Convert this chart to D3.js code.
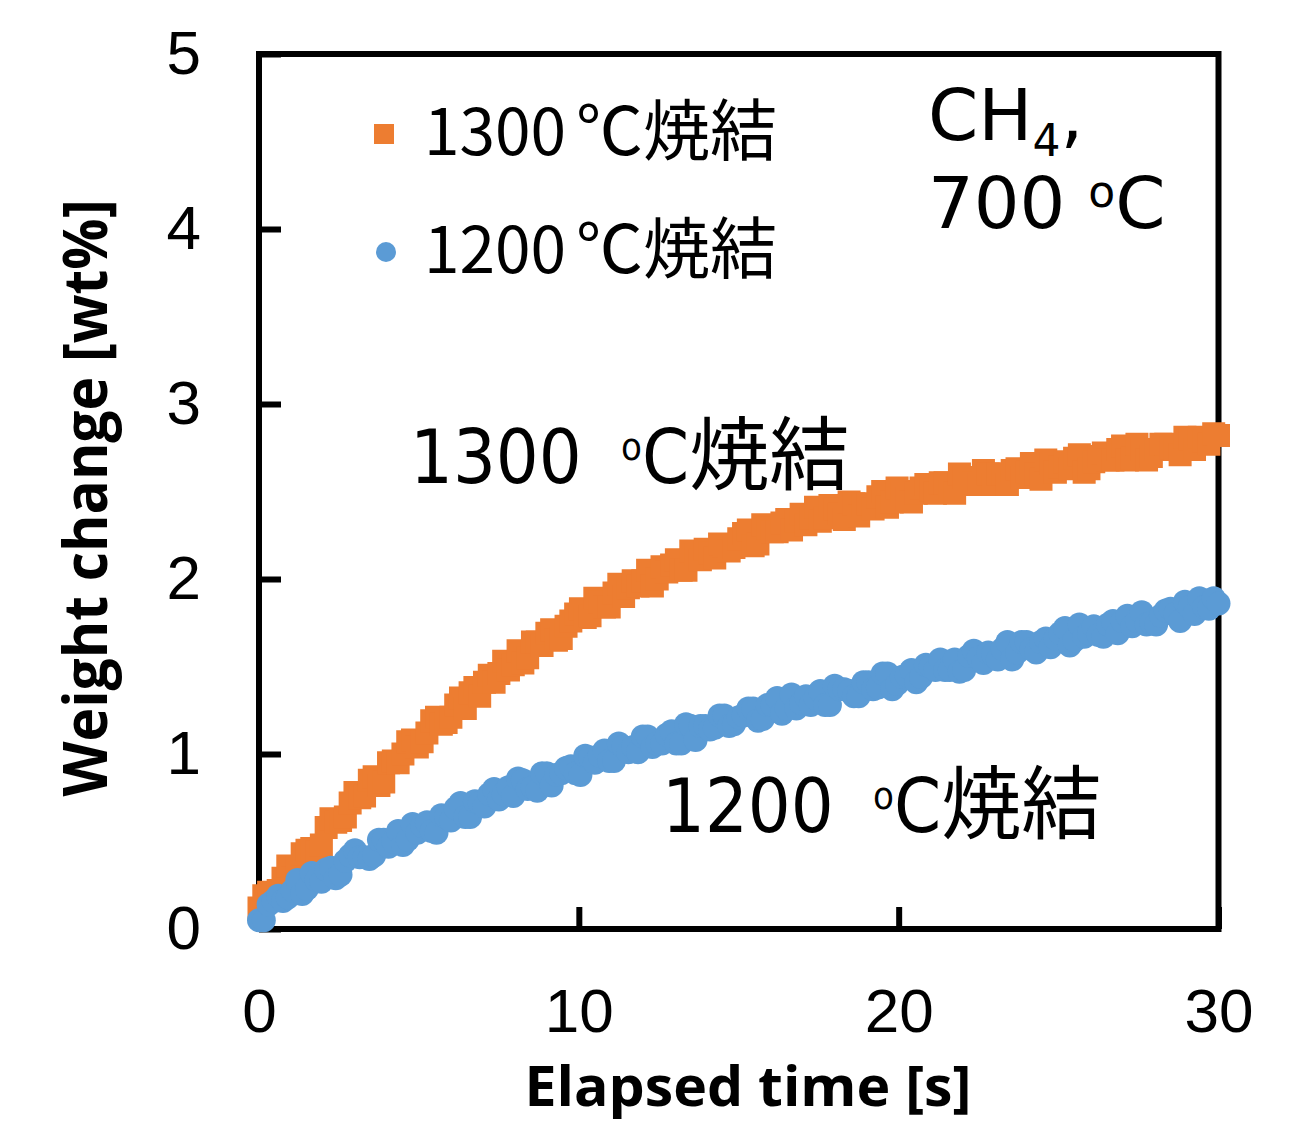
<!DOCTYPE html>
<html>
<head>
<meta charset="utf-8">
<script src="https://cdn.jsdelivr.net/npm/d3@7"></script>
<style>
	body { margin: 0; background: #fff; }
	svg { display: block; }
</style>
</head>
<body>
<div id="chart"></div>
<script>
// elapsed time [s], readings on the 0.3 s grid
const times = [
	0, 0.3, 0.6, 0.9, 1.2, 1.5, 1.8, 2.1, 2.4, 2.7,
	3.0, 3.3, 3.6, 3.9, 4.2, 4.5, 4.8, 5.1, 5.4, 5.7,
	6.0, 6.3, 6.6, 6.9, 7.2, 7.5, 7.8, 8.1, 8.4, 8.7,
	9.0, 9.3, 9.6, 9.9, 10.2, 10.5, 10.8, 11.1, 11.4, 11.7,
	12.0, 12.3, 12.6, 12.9, 13.2, 13.5, 13.8, 14.1, 14.4, 14.7,
	15.0, 15.3, 15.6, 15.9, 16.2, 16.5, 16.8, 17.1, 17.4, 17.7,
	18.0, 18.3, 18.6, 18.9, 19.2, 19.5, 19.8, 20.1, 20.4, 20.7,
	21.0, 21.3, 21.6, 21.9, 22.2, 22.5, 22.8, 23.1, 23.4, 23.7,
	24.0, 24.3, 24.6, 24.9, 25.2, 25.5, 25.8, 26.1, 26.4, 26.7,
	27.0, 27.3, 27.6, 27.9, 28.2, 28.5, 28.8, 29.1, 29.4, 29.7,
	30.0
];

// elapsed time [s], readings in between
const timesMid = [
	0.15, 0.45, 0.75, 1.05, 1.35, 1.65, 1.95, 2.25, 2.55, 2.85,
	3.15, 3.45, 3.75, 4.05, 4.35, 4.65, 4.95, 5.25, 5.55, 5.85,
	6.15, 6.45, 6.75, 7.05, 7.35, 7.65, 7.95, 8.25, 8.55, 8.85,
	9.15, 9.45, 9.75, 10.05, 10.35, 10.65, 10.95, 11.25, 11.55, 11.85,
	12.15, 12.45, 12.75, 13.05, 13.35, 13.65, 13.95, 14.25, 14.55, 14.85,
	15.15, 15.45, 15.75, 16.05, 16.35, 16.65, 16.95, 17.25, 17.55, 17.85,
	18.15, 18.45, 18.75, 19.05, 19.35, 19.65, 19.95, 20.25, 20.55, 20.85,
	21.15, 21.45, 21.75, 22.05, 22.35, 22.65, 22.95, 23.25, 23.55, 23.85,
	24.15, 24.45, 24.75, 25.05, 25.35, 25.65, 25.95, 26.25, 26.55, 26.85,
	27.15, 27.45, 27.75, 28.05, 28.35, 28.65, 28.95, 29.25, 29.55, 29.85
];

// weight change [wt%], sample sintered at 1300 C
const weight1300 = [
	0.12, 0.21, 0.22, 0.36, 0.35, 0.45, 0.44, 0.58, 0.61, 0.64,
	0.78, 0.76, 0.87, 0.84, 0.96, 1.00, 1.08, 1.07, 1.19, 1.17,
	1.21, 1.32, 1.35, 1.33, 1.45, 1.46, 1.48, 1.59, 1.55, 1.64,
	1.69, 1.65, 1.73, 1.80, 1.78, 1.89, 1.84, 1.92, 1.90, 1.99,
	1.99, 1.96, 2.07, 2.08, 2.05, 2.16, 2.11, 2.15, 2.20, 2.16,
	2.23, 2.28, 2.20, 2.29, 2.27, 2.34, 2.33, 2.31, 2.41, 2.35,
	2.40, 2.34, 2.43, 2.42, 2.40, 2.50, 2.44, 2.50, 2.44, 2.52,
	2.51, 2.55, 2.50, 2.60, 2.54, 2.54, 2.60, 2.60, 2.54, 2.63,
	2.61, 2.60, 2.68, 2.61, 2.67, 2.69, 2.61, 2.67, 2.72, 2.68,
	2.76, 2.69, 2.74, 2.70, 2.77, 2.75, 2.71, 2.80, 2.81, 2.77,
	2.82
];

const weight1300Mid = [
	0.19, 0.19, 0.29, 0.29, 0.43, 0.46, 0.48, 0.63, 0.62, 0.72,
	0.75, 0.85, 0.82, 0.95, 0.95, 1.07, 1.04, 1.12, 1.21, 1.18,
	1.28, 1.26, 1.38, 1.41, 1.41, 1.53, 1.51, 1.52, 1.64, 1.62,
	1.71, 1.66, 1.76, 1.83, 1.79, 1.87, 1.84, 1.97, 1.95, 1.96,
	2.05, 2.00, 2.04, 2.11, 2.05, 2.14, 2.17, 2.12, 2.19, 2.18,
	2.26, 2.19, 2.31, 2.27, 2.32, 2.28, 2.37, 2.35, 2.33, 2.42,
	2.37, 2.44, 2.36, 2.43, 2.47, 2.41, 2.52, 2.46, 2.49, 2.54,
	2.49, 2.55, 2.49, 2.58, 2.55, 2.62, 2.54, 2.60, 2.62, 2.58,
	2.66, 2.57, 2.66, 2.64, 2.63, 2.71, 2.63, 2.70, 2.68, 2.74,
	2.68, 2.77, 2.68, 2.74, 2.77, 2.74, 2.81, 2.74, 2.79, 2.83
];

// weight change [wt%], sample sintered at 1200 C
const weight1200 = [
	0.05, 0.14, 0.19, 0.18, 0.28, 0.23, 0.28, 0.34, 0.29, 0.39,
	0.45, 0.41, 0.42, 0.51, 0.50, 0.48, 0.60, 0.59, 0.56, 0.65,
	0.62, 0.72, 0.64, 0.72, 0.77, 0.74, 0.81, 0.86, 0.80, 0.79,
	0.89, 0.88, 0.92, 0.89, 0.99, 0.95, 1.02, 0.96, 1.04, 1.04,
	1.10, 1.04, 1.06, 1.13, 1.06, 1.16, 1.16, 1.14, 1.22, 1.16,
	1.21, 1.26, 1.19, 1.28, 1.32, 1.26, 1.26, 1.33, 1.32, 1.28,
	1.39, 1.37, 1.33, 1.41, 1.37, 1.46, 1.37, 1.44, 1.48, 1.44,
	1.50, 1.54, 1.48, 1.47, 1.56, 1.55, 1.58, 1.54, 1.64, 1.58,
	1.64, 1.58, 1.66, 1.66, 1.72, 1.65, 1.67, 1.73, 1.67, 1.76,
	1.76, 1.73, 1.81, 1.75, 1.79, 1.83, 1.76, 1.84, 1.89, 1.83,
	1.86
];

const weight1200Mid = [
	0.05, 0.16, 0.16, 0.22, 0.20, 0.32, 0.27, 0.35, 0.31, 0.42,
	0.41, 0.40, 0.51, 0.47, 0.56, 0.51, 0.55, 0.61, 0.55, 0.64,
	0.69, 0.64, 0.73, 0.70, 0.80, 0.77, 0.76, 0.85, 0.81, 0.89,
	0.82, 0.89, 0.93, 0.88, 0.98, 0.99, 0.96, 1.06, 1.01, 1.01,
	1.10, 1.06, 1.11, 1.06, 1.17, 1.08, 1.16, 1.15, 1.22, 1.17,
	1.22, 1.26, 1.20, 1.28, 1.23, 1.34, 1.29, 1.28, 1.36, 1.28,
	1.37, 1.36, 1.33, 1.41, 1.38, 1.46, 1.40, 1.45, 1.41, 1.51,
	1.48, 1.48, 1.54, 1.48, 1.59, 1.52, 1.57, 1.60, 1.54, 1.64,
	1.60, 1.64, 1.61, 1.69, 1.62, 1.74, 1.69, 1.68, 1.74, 1.69,
	1.79, 1.76, 1.74, 1.74, 1.82, 1.80, 1.87, 1.80, 1.84, 1.89
];

const xTicks = [0, 10, 20, 30];
const yTicks = [0, 1, 2, 3, 4, 5];
const legendTemps = ['1300', '1200'];
const seriesColors = ['#ED7D31', '#5B9BD5'];

const WeightChart = {
	width: 1297,
	height: 1125,
	left: 259,
	top: 54,
	right: 1218.5,
	bottom: 929,

	draw: function() {
		const self = this;
		let svg = d3.select('#chart').append('svg')
			.attr('width', self.width)
			.attr('height', self.height);
		let xScale = d3.scaleLinear()
			.domain([ 0, 30 ])
			.range([ self.left, self.right ]);
		let yScale = d3.scaleLinear()
			.domain([ 0, 5 ])
			.range([ self.bottom, self.top ]);

		self.drawFrame(svg);
		self.drawAxes(svg, xScale, yScale);
		self.drawSeries(svg, xScale, yScale);
		self.drawLegend(svg);
		self.drawAnnotations(svg);
		self.drawTitles(svg);
	},

	drawFrame: function(svg) {
		const self = this;

		svg.append('rect')
			.attr('x', self.left)
			.attr('y', self.top)
			.attr('width', self.right - self.left)
			.attr('height', self.bottom - self.top)
			.style('fill', 'none')
			.style('stroke', '#000')
			.style('stroke-width', 6);
	},
	drawAxes: function(svg, xScale, yScale) {
		const self = this;
		let xAxis = d3.axisBottom(xScale)
			.tickValues(xTicks)
			.tickSize(-22)
			.tickPadding(59)
			.tickFormat(d3.format('d'));
		let yAxis = d3.axisLeft(yScale)
			.tickValues(yTicks)
			.tickSize(-22)
			.tickPadding(58)
			.tickFormat(d3.format('d'));

		let xGroup = svg.append('g')
			.attr('transform', 'translate(0,' + self.bottom + ')')
			.call(xAxis);
		let yGroup = svg.append('g')
			.attr('transform', 'translate(' + self.left + ',0)')
			.call(yAxis);

		[ xGroup, yGroup ].forEach(function(g) {
			g.select('.domain').remove();
			g.selectAll('.tick line')
				.style('stroke', '#000')
				.style('stroke-width', 6);
			g.selectAll('.tick text')
				.style('fill', '#000')
				.style('font-family', 'Liberation Sans, Arial, sans-serif')
				.style('font-size', '62px');
		});
	},
	toPoints: function(ts, ws) {
		return ts.map(function(t, i) { return { t: t, w: ws[i] }; });
	},
	drawSeries: function(svg, xScale, yScale) {
		const self = this;
		let squareSize = 23;
		let circleRadius = 12;
		let points1300 = self.toPoints(times, weight1300)
			.concat(self.toPoints(timesMid, weight1300Mid))
			.sort(function(a, b) { return a.t - b.t; });
		let points1200 = self.toPoints(times, weight1200)
			.concat(self.toPoints(timesMid, weight1200Mid))
			.sort(function(a, b) { return a.t - b.t; });

		svg.append('g')
			.selectAll('rect')
			.data(points1300)
			.enter()
			.append('rect')
			.attr('x', function(d) { return xScale(d.t) - squareSize / 2; })
			.attr('y', function(d) { return yScale(d.w) - squareSize / 2; })
			.attr('width', squareSize)
			.attr('height', squareSize)
			.style('fill', seriesColors[0]);

		svg.append('g')
			.selectAll('circle')
			.data(points1200)
			.enter()
			.append('circle')
			.attr('cx', function(d) { return xScale(d.t); })
			.attr('cy', function(d) { return yScale(d.w); })
			.attr('r', circleRadius)
			.style('fill', seriesColors[1]);
	},
	drawLegend: function(svg) {
		let legend = svg.append('g');
		let rowY = [ 134, 252 ];

		legend.append('rect')
			.attr('x', 374)
			.attr('y', rowY[0] - 10)
			.attr('width', 20)
			.attr('height', 20)
			.style('fill', seriesColors[0]);

		legend.append('circle')
			.attr('cx', 386)
			.attr('cy', rowY[1])
			.attr('r', 10)
			.style('fill', seriesColors[1]);

		legendTemps.forEach(function(temp, i) {
			let label = legend.append('text')
				.attr('x', 424)
				.attr('y', rowY[i] + 21)
				.style('font-family', 'Noto Sans CJK JP, sans-serif')
				.style('font-size', '64px')
				.style('fill', '#000');
			label.append('tspan').text(temp);
			label.append('tspan')
				.attr('dx', 10)
				.style('font-size', '67px')
				.style('font-feature-settings', '"fwid" 1')
				.text('℃');
			label.append('tspan')
				.style('font-size', '67px')
				.text('焼結');
		});
	},
	drawAnnotations: function(svg) {
		// gas / temperature note, top right
		let note = svg.append('text')
			.attr('x', 928)
			.attr('y', 140)
			.style('font-family', 'DejaVu Sans, Verdana, sans-serif')
			.style('font-size', '72px')
			.style('fill', '#000');
		note.append('tspan').text('CH');
		note.append('tspan').attr('dy', 16).style('font-size', '44px').text('4');
		note.append('tspan').attr('dy', -16).text(',');

		let temp = svg.append('text')
			.attr('x', 928)
			.attr('y', 228)
			.style('font-family', 'DejaVu Sans, Verdana, sans-serif')
			.style('font-size', '72px')
			.style('fill', '#000');
		temp.append('tspan').text('700 ');
		temp.append('tspan').attr('dy', -21).style('font-size', '44px').text('o');
		temp.append('tspan').attr('dy', 21).text('C');

		// series labels inside the plot
		let seriesLabels = [
			{ text: '1300 ', x: 410, y: 483 },
			{ text: '1200 ', x: 662, y: 832 }
		];

		seriesLabels.forEach(function(s) {
			let label = svg.append('text')
				.attr('x', s.x)
				.attr('y', s.y)
				.style('font-family', 'DejaVu Sans Condensed, DejaVu Sans, Noto Sans CJK JP, sans-serif')
				.style('font-stretch', 'condensed')
				.style('font-size', '75px')
				.style('fill', '#000');
			label.append('tspan').text(s.text);
			label.append('tspan').attr('dx', 18).attr('dy', -23).style('font-size', '38px').text('o');
			label.append('tspan').attr('dy', 23).text('C');
			label.append('tspan')
				.style('font-family', 'Noto Sans CJK JP, sans-serif')
				.style('font-stretch', 'normal')
				.style('font-size', '80px')
				.text('焼結');
		});
	},
	drawTitles: function(svg) {
		svg.append('text')
			.attr('x', 748)
			.attr('y', 1106)
			.attr('text-anchor', 'middle')
			.attr('textLength', 447)
			.attr('lengthAdjust', 'spacingAndGlyphs')
			.style('font-family', 'Open Sans, Lato, sans-serif')
			.style('font-weight', 700)
			.style('font-size', '56px')
			.style('fill', '#000')
			.text('Elapsed time [s]');

		svg.append('text')
			.attr('transform', 'translate(107,498) rotate(-90)')
			.attr('text-anchor', 'middle')
			.attr('textLength', 597)
			.attr('lengthAdjust', 'spacingAndGlyphs')
			.style('font-family', 'Open Sans, Lato, sans-serif')
			.style('font-weight', 700)
			.style('font-size', '60px')
			.style('fill', '#000')
			.text('Weight change [wt%]');
	}
}

WeightChart.draw();
</script>
</body>
</html>
